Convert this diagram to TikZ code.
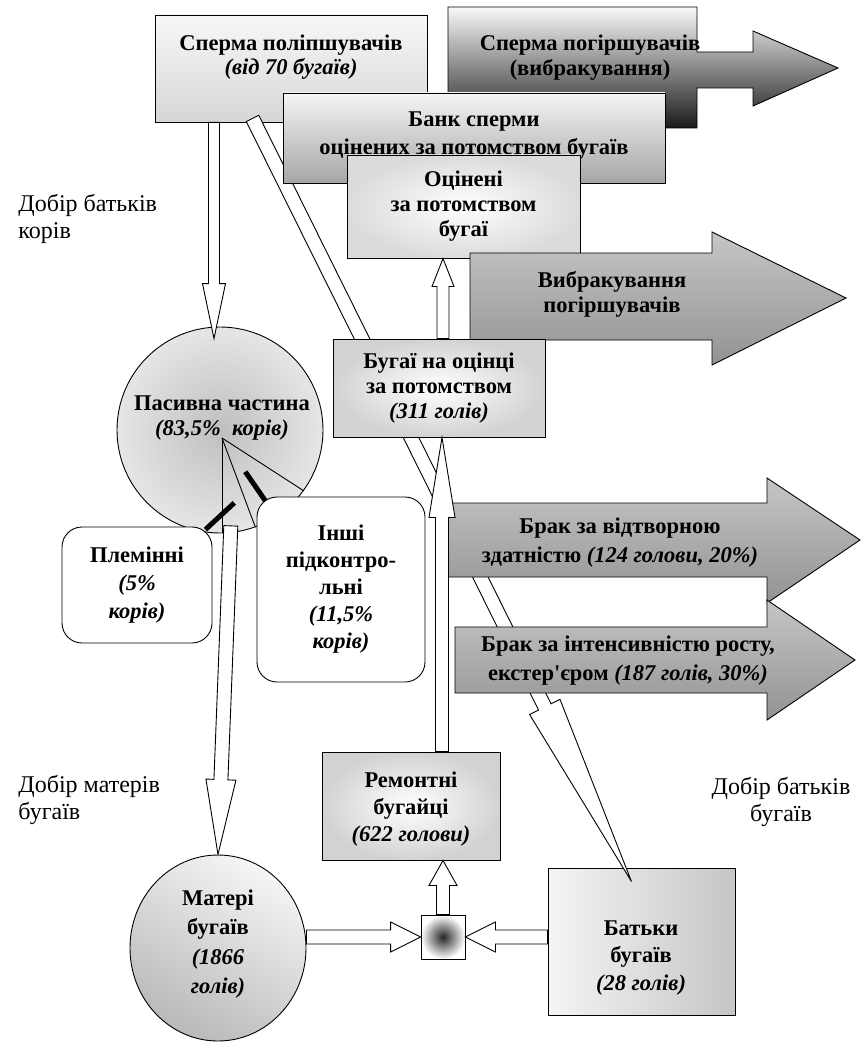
\documentclass[tikz,border=0pt]{standalone}
\usepackage{fontspec}
\setmainfont{Liberation Serif}
\usetikzlibrary{calc,shapes.geometric}
\newcommand{\bodyfont}[1]{\fontsize{22.5}{#1}\selectfont}
% white block arrow: from, to, half shaft, half head, head length
\newcommand{\fatarrow}[5]{%
  \coordinate (h) at ($(#2)!#5!(#1)$);
  \draw[fill=white] ($(#1)!#3!-90:(#2)$) -- ($(h)!#3!-90:(#2)$) -- ($(h)!#4!-90:(#2)$) -- (#2)
    -- ($(h)!#4!90:(#2)$) -- ($(h)!#3!90:(#2)$) -- ($(#1)!#3!90:(#2)$) -- cycle;}

\begin{document}
\begin{tikzpicture}[x=1pt,y=-1pt,line width=0.9pt,
  every node/.style={font=\bodyfont{25}\bfseries,align=center,inner sep=0pt},
  flat/.style={draw,top color=gray!6,bottom color=gray!32},
  glow/.style={draw,inner color=white,outer color=gray!35},
  rbox/.style={draw,fill=white,rounded corners=20pt},
  band/.style={draw,top color=gray!45,middle color=gray!2,bottom color=gray!85},
  lbl/.style={font=\fontsize{24}{27}\selectfont,align=left},
  lead/.style={line width=5pt}]
\useasboundingbox (0,0) rectangle (866,1051);
%
\path[draw,top color=gray!5,middle color=gray!30,bottom color=black!90]
  (448,7) -- (697,7) -- (697,52) -- (753,52) -- (753,31) -- (838,68) -- (753,106)
  -- (753,88) -- (697,88) -- (697,128) -- (448,128) -- cycle;
\node (badt) at (590,58) {Сперма погіршувачів\\(вибракування)};
\node[flat,minimum width=272,minimum height=107] (good) at (291,68.5) {};
\node[font=\bodyfont{24}\bfseries] (goodt) at (291,57) {Сперма поліпшувачів\\\textit{(від 70 бугаїв)}};
\node[draw,left color=gray!8,right color=gray!45,minimum width=187,minimum height=147] (dad) at (641.5,941.5) {};
\node[font=\bodyfont{27.5}\bfseries] (dadt) at (641,958) {Батьки\\бугаїв\\\textit{(28 голів)}};
%
\coordinate (dtail) at ($(good.south west)+(98,-4)$);
\coordinate (dtip) at ($(dad.north)+(-10,14)$);
\fatarrow{dtail}{dtip}{7pt}{17pt}{195pt}
%
\node[draw,top color=gray!8,bottom color=gray!70,minimum width=382,minimum height=90] (bank) at (474,138) {};
\node[font=\bodyfont{28}\bfseries] (bankt) at (474,136) {Банк сперми\\оцінених за потомством бугаїв};
\node[glow,outer color=gray!28,minimum width=233,minimum height=103] (proven) at (463.5,206.5)
  {Оцінені\\за потомством\\бугаї};
\path[band] (470,253) -- (712,253) -- (712,232) -- (846,298) -- (712,365) -- (712,340)
  -- (470,340) -- cycle;
\node (cullt) at (612,294) {Вибракування\\погіршувачів};
%
\node[draw,circle,minimum size=206,inner color=gray!50,outer color=gray!20] (pas) at (220,430) {};
\node (past) at (222,418) {Пасивна частина\\\textit{(83,5\%\ \ корів)}};
\coordinate (pc) at ($(pas.center)+(2,8)$);
\draw (pc) -- (pc |- pas.south);
\draw (pc) -- (pas.-70);
\draw (pc) -- (pas.-36);
\coordinate (a1e) at ($(pas.north)+(-6,12)$);
\coordinate (a1s) at (a1e |- good.south);
\fatarrow{a1s}{a1e}{5.5pt}{11.5pt}{55pt}
%
\node[rbox,minimum width=150,minimum height=116,font=\bodyfont{28}\bfseries] (elite) at (137,585)
  {Племінні\\\textit{(5\%}\\\textit{корів)}};
\node[rbox,minimum width=168,minimum height=185,font=\bodyfont{27}\bfseries] (other) at (341,589.5)
  {Інші\\підконтро-\\льні\\\textit{(11,5\%}\\\textit{корів)}};
\draw[lead] ($(elite.north east)+(-7,3)$) -- ($(pc)!66pt!(pas.-79)$);
\draw[lead] ($(pc)!41pt!(pas.-57)$) -- ($(pc)!76pt!(pas.-57)$);
\coordinate (a2s) at ($(pas.-84)+(0,-7)$);
%
\node[glow,minimum width=212,minimum height=98] (test) at (439,388)
  {Бугаї на оцінці\\за потомством\\\textit{(311 голів)}};
\coordinate (a3s) at ($(test.north)+(4,0)$);
\coordinate (a3e) at (a3s |- proven.south);
\fatarrow{a3s}{a3e}{6pt}{11pt}{28pt}
%
\path[band] (448,503) -- (767,503) -- (767,478) -- (860,540) -- (767,603) -- (767,577)
  -- (448,577) -- cycle;
\node[font=\bodyfont{29}\bfseries] (fertt) at (620,543) {Брак за відтворною\\здатністю \textit{(124 голови, 20\%)}};
\path[band] (455,627) -- (767,627) -- (767,600) -- (855,660) -- (767,720) -- (767,693)
  -- (455,693) -- cycle;
\node[font=\bodyfont{29}\bfseries] (growt) at (628,661) {Брак за інтенсивністю росту,\\екстер\textquotesingle єром \textit{(187 голів, 30\%)}};
%
\node[glow,minimum width=178,minimum height=108] (rep) at (411,806) {};
\node[font=\bodyfont{27}\bfseries] (rept) at (411,809) {Ремонтні\\бугайці\\\textit{(622 голови)}};
\coordinate (a4e) at ($(test.south)+(3,0)$);
\coordinate (a4s) at (a4e |- rep.north);
\fatarrow{a4s}{a4e}{6.5pt}{13pt}{80pt}
%
\node[draw,ellipse,minimum width=176,minimum height=186,top color=gray!8,bottom color=gray!55,
  shading angle=-30] (mom) at (218,948) {};
\node[font=\bodyfont{29.5}\bfseries] (momt) at (218,944) {Матері\\бугаїв\\\textit{(1866}\\\textit{голів)}};
\fatarrow{a2s}{mom.north}{7pt}{15pt}{75pt}
\node[draw,minimum size=44,inner color=black!85,outer color=white] (hub) at (443,937) {};
\coordinate (a5s) at (hub.west -| mom.east);
\fatarrow{a5s}{hub.west}{7pt}{15pt}{30pt}
\coordinate (a6s) at (hub.east -| dad.west);
\fatarrow{a6s}{hub.east}{7pt}{15pt}{30pt}
\coordinate (a7e) at (hub.north |- rep.south);
\fatarrow{hub.north}{a7e}{6.5pt}{14pt}{25pt}
%
\node[lbl,anchor=north west] (l1) at (18,194) {Добір батьків\\корів};
\node[lbl,anchor=north west] (l2) at (18,775) {Добір матерів\\бугаїв};
\node[lbl,align=center] (l3) at (781,802) {Добір батьків\\бугаїв};
\end{tikzpicture}
\end{document}
